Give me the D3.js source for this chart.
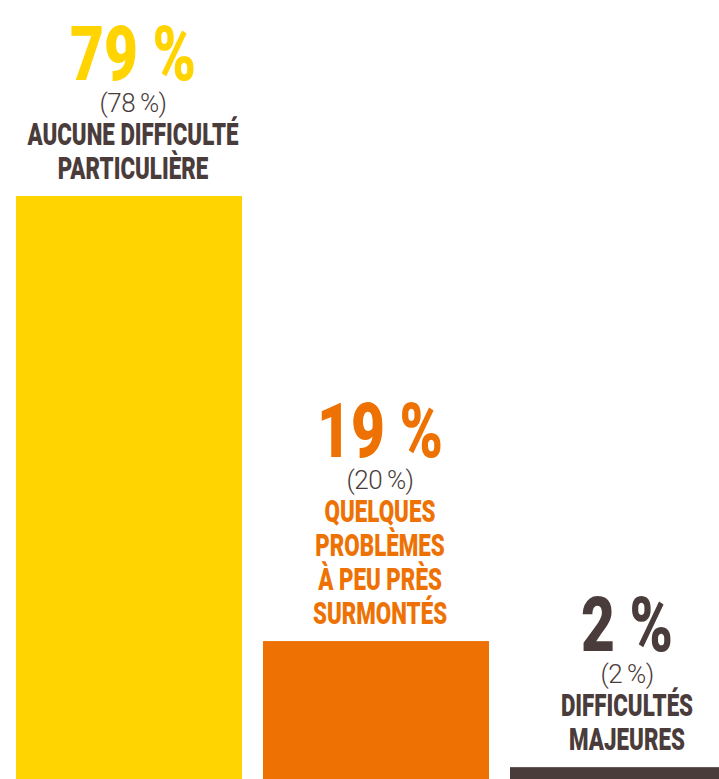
<!DOCTYPE html>
<html>
<head>
<meta charset="utf-8">
<script src="https://cdn.jsdelivr.net/npm/d3@7"></script>
<style>
  body { margin: 0; background: #fff; }
  svg { display: block; }
</style>
</head>
<body>
<div id="chart"></div>
<script>
// data
let categories = ["aucune", "quelques", "majeures"];
let values = [79, 19, 2];
let previous = [78, 20, 2];
let labels = [
    ["AUCUNE DIFFICULTÉ", "PARTICULIÈRE"],
    ["QUELQUES", "PROBLÈMES", "À PEU PRÈS", "SURMONTÉS"],
    ["DIFFICULTÉS", "MAJEURES"]
];
let colors = ["#ffd400", "#ee7203", "#4a3c3b"];
let labelColors = ["#4a3c3b", "#ee7203", "#4a3c3b"];

let width = 719, height = 779;
let margin = { left: 16, right: -17, bottom: -3 };

let svg = d3.select("#chart")
    .append("svg")
    .attr("width", width)
    .attr("height", height);

let x = d3.scaleBand()
    .range([margin.left, width - margin.right])
    .domain(categories)
    .paddingInner(21 / 247);

// base line sits a little below the visible area
let y = d3.scaleLinear()
    .domain([0, 79])
    .range([height - margin.bottom, 196]);

svg.selectAll("rect.bar")
    .data(categories)
    .enter()
    .append("rect")
    .attr("class", "bar")
    .attr("x", function (d) { return x(d); })
    .attr("y", function (d, i) { return y(values[i]); })
    .attr("width", x.bandwidth())
    .attr("height", function (d, i) { return y(0) - y(values[i]); })
    .attr("fill", function (d, i) { return colors[i]; });

let condense = 0.72;

categories.forEach(function (c, i) {
    let cx = x(c) + x.bandwidth() / 2 + 4;
    let top = y(values[i]);
    let lines = labels[i];
    let lastBase = top - 17;
    let firstBase = lastBase - 34 * (lines.length - 1);
    let parenBase = firstBase - 33;
    let numBase = parenBase - 32;

    let g = svg.append("g");

    lines.forEach(function (t, j) {
        g.append("text")
            .attr("transform", "translate(" + cx + "," + (firstBase + 34 * j) + ") scale(" + condense + ",1)")
            .attr("text-anchor", "middle")
            .style("font-family", "Roboto")
            .style("font-weight", 900)
            .style("font-size", "31px")
            .attr("fill", labelColors[i])
            .text(t);
    });

    g.append("text")
        .attr("transform", "translate(" + cx + "," + parenBase + ")")
        .attr("text-anchor", "middle")
        .style("font-family", "Roboto")
        .style("font-weight", 300)
        .style("font-size", "26px")
        .style("letter-spacing", "-0.5px")
        .attr("fill", "#4a3c3b")
        .text("(" + previous[i] + "\u2009%)");

    g.append("text")
        .attr("transform", "translate(" + cx + "," + numBase + ") scale(0.77,1)")
        .attr("text-anchor", "middle")
        .style("font-family", "Roboto")
        .style("font-weight", 900)
        .style("font-size", "76px")
        .attr("fill", colors[i])
        .text(values[i] + " %");
});
</script>
</body>
</html>
